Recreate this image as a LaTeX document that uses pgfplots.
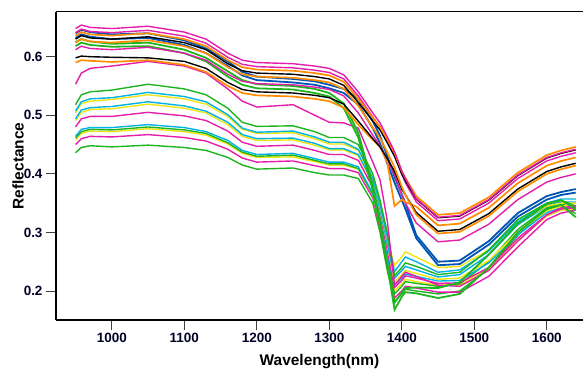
\documentclass[border=0pt]{standalone}
\usepackage{pgfplots}
\usepackage{pgfplotstable}
\pgfplotsset{compat=1.18}
\usepackage{fontspec}
\setmainfont{Liberation Sans}
\definecolor{cmag}{RGB}{228,30,170}
\definecolor{cgrn}{RGB}{30,180,30}
\definecolor{ccyn}{RGB}{0,178,228}
\definecolor{cyel}{RGB}{240,228,20}
\definecolor{corg}{RGB}{255,140,0}
\definecolor{cblu}{RGB}{0,84,180}

\pgfplotstableread{
wl U1 U2 U3 U4 U5 U6 U7 U8 B1 B2 Ga Gb Mu G1 C1 Y1 C2 Y2 M1 C3 G2 Y3 M2 G3
950 0.648 0.636 0.630 0.641 0.624 0.598 0.612 0.590 0.640 0.632 0.625 0.618 0.553 0.518 0.507 0.504 0.494 0.491 0.480 0.464 0.461 0.458 0.450 0.436
958 0.654 0.642 0.636 0.647 0.630 0.601 0.618 0.594 0.646 0.638 0.630 0.624 0.572 0.535 0.523 0.520 0.509 0.505 0.494 0.476 0.472 0.469 0.460 0.445
970 0.650 0.638 0.632 0.643 0.626 0.600 0.614 0.593 0.642 0.634 0.626 0.620 0.580 0.540 0.528 0.524 0.513 0.510 0.498 0.479 0.476 0.473 0.464 0.448
1000 0.648 0.636 0.630 0.641 0.624 0.599 0.612 0.591 0.638 0.630 0.622 0.617 0.584 0.543 0.530 0.527 0.515 0.511 0.498 0.479 0.475 0.472 0.463 0.446
1050 0.652 0.640 0.634 0.645 0.628 0.598 0.616 0.594 0.640 0.632 0.624 0.618 0.592 0.553 0.539 0.535 0.523 0.519 0.505 0.484 0.480 0.477 0.467 0.449
1100 0.642 0.630 0.624 0.635 0.618 0.592 0.606 0.586 0.628 0.620 0.612 0.606 0.584 0.545 0.532 0.528 0.516 0.512 0.499 0.479 0.475 0.472 0.462 0.445
1130 0.630 0.618 0.612 0.623 0.606 0.580 0.594 0.574 0.614 0.606 0.598 0.592 0.572 0.535 0.523 0.519 0.507 0.504 0.491 0.472 0.469 0.466 0.456 0.440
1160 0.606 0.594 0.588 0.599 0.582 0.556 0.570 0.550 0.592 0.584 0.575 0.566 0.545 0.512 0.501 0.498 0.488 0.484 0.473 0.457 0.453 0.451 0.442 0.428
1180 0.594 0.582 0.576 0.587 0.570 0.544 0.558 0.538 0.574 0.568 0.560 0.552 0.524 0.488 0.478 0.476 0.467 0.464 0.454 0.440 0.437 0.435 0.427 0.415
1200 0.590 0.578 0.572 0.583 0.566 0.540 0.554 0.534 0.566 0.560 0.553 0.546 0.514 0.481 0.471 0.469 0.460 0.457 0.447 0.433 0.430 0.428 0.420 0.408
1250 0.588 0.576 0.570 0.581 0.564 0.538 0.552 0.532 0.562 0.556 0.550 0.544 0.518 0.482 0.473 0.470 0.461 0.458 0.449 0.435 0.432 0.429 0.422 0.410
1280 0.584 0.572 0.566 0.577 0.560 0.534 0.548 0.528 0.558 0.552 0.545 0.538 0.500 0.472 0.463 0.460 0.452 0.449 0.440 0.426 0.423 0.421 0.414 0.402
1300 0.580 0.568 0.562 0.573 0.556 0.530 0.544 0.524 0.552 0.546 0.538 0.532 0.488 0.462 0.454 0.451 0.443 0.441 0.433 0.420 0.417 0.415 0.409 0.398
1320 0.569 0.557 0.551 0.562 0.545 0.519 0.533 0.513 0.545 0.538 0.520 0.512 0.487 0.462 0.454 0.451 0.443 0.441 0.433 0.420 0.417 0.415 0.409 0.398
1340 0.540 0.528 0.522 0.533 0.516 0.490 0.504 0.484 0.528 0.518 0.470 0.462 0.478 0.450 0.442 0.440 0.433 0.431 0.423 0.412 0.409 0.408 0.402 0.392
1360 0.504 0.496 0.490 0.497 0.479 0.460 0.466 0.458 0.490 0.478 0.380 0.372 0.420 0.400 0.393 0.392 0.386 0.384 0.377 0.367 0.365 0.364 0.359 0.350
1370 0.487 0.480 0.475 0.480 0.461 0.446 0.448 0.446 0.465 0.452 0.320 0.312 0.390 0.355 0.348 0.346 0.339 0.337 0.330 0.319 0.317 0.315 0.309 0.300
1380 0.463 0.459 0.453 0.456 0.437 0.426 0.424 0.420 0.430 0.418 0.245 0.245 0.320 0.300 0.292 0.289 0.281 0.279 0.270 0.257 0.255 0.253 0.246 0.235
1390 0.438 0.436 0.430 0.431 0.411 0.404 0.398 0.345 0.395 0.385 0.168 0.180 0.210 0.226 0.233 0.244 0.222 0.215 0.206 0.210 0.195 0.200 0.188 0.182
1400 0.405 0.405 0.400 0.399 0.378 0.374 0.364 0.356 0.365 0.355 0.190 0.197 0.225 0.240 0.250 0.258 0.235 0.228 0.218 0.222 0.208 0.212 0.200 0.195
1405 0.392 0.393 0.388 0.385 0.364 0.364 0.350 0.352 0.350 0.340 0.198 0.205 0.232 0.248 0.258 0.267 0.242 0.235 0.226 0.229 0.216 0.220 0.208 0.203
1420 0.358 0.362 0.357 0.352 0.330 0.334 0.316 0.344 0.295 0.290 0.196 0.206 0.225 0.242 0.250 0.258 0.236 0.230 0.222 0.225 0.213 0.216 0.205 0.200
1450 0.326 0.330 0.325 0.320 0.298 0.302 0.284 0.312 0.250 0.244 0.188 0.205 0.210 0.228 0.232 0.240 0.224 0.220 0.213 0.217 0.208 0.210 0.198 0.195
1480 0.329 0.333 0.328 0.323 0.301 0.305 0.287 0.315 0.252 0.246 0.195 0.215 0.208 0.232 0.236 0.242 0.228 0.222 0.214 0.218 0.212 0.210 0.198 0.200
1520 0.356 0.360 0.355 0.350 0.328 0.332 0.314 0.342 0.285 0.279 0.240 0.262 0.235 0.270 0.268 0.270 0.262 0.252 0.240 0.248 0.250 0.238 0.225 0.238
1560 0.398 0.402 0.397 0.392 0.370 0.374 0.356 0.384 0.333 0.327 0.300 0.315 0.285 0.322 0.318 0.318 0.313 0.300 0.290 0.296 0.305 0.286 0.275 0.295
1600 0.428 0.432 0.427 0.422 0.400 0.404 0.386 0.414 0.362 0.356 0.340 0.348 0.330 0.350 0.350 0.345 0.345 0.337 0.330 0.334 0.342 0.328 0.322 0.338
1620 0.436 0.440 0.435 0.430 0.408 0.412 0.394 0.422 0.369 0.364 0.347 0.355 0.342 0.355 0.357 0.350 0.352 0.345 0.340 0.342 0.350 0.338 0.333 0.347
1640 0.442 0.446 0.441 0.436 0.414 0.418 0.400 0.428 0.374 0.368 0.326 0.340 0.345 0.345 0.357 0.350 0.352 0.346 0.342 0.345 0.338 0.340 0.338 0.332
}\spectra

\begin{document}
\begin{tikzpicture}
\begin{axis}[
  scale only axis,
  width=527bp, height=308.3bp,
  xmin=923, xmax=1650, ymin=0.1505, ymax=0.6768,
  axis y line*=left,
  y axis line style={-},
  axis line style={line width=1.6pt, black},
  xtick pos=left,
  tick align=outside,
  major tick length=10bp,
  tick style={line width=0.8pt, black!75},
  xtick={1000,1100,1200,1300,1400,1500,1600},
  ytick={0.2,0.3,0.4,0.5,0.6},
  yticklabels={0.2,0.3,0.4,0.5,0.6},
  xticklabels={1000,1100,1200,1300,1400,1500,1600},
  ticklabel style={font=\bfseries\fontsize{13.5}{15}\selectfont, text=black!85!blue},
  label style={font=\bfseries\fontsize{15.5}{17}\selectfont},
  xlabel={Wavelength(nm)},
  ylabel={Reflectance},
  xlabel style={at={(axis description cs:0.5,0)}, anchor=center, yshift=-41.7bp},
  ylabel style={at={(axis description cs:0,0.5)}, anchor=center, rotate=0, yshift=38bp},
  every axis plot/.append style={line width=1.4pt, no markers},
  clip=true,
]
\addplot[cgrn] table[x=wl,y=G3] {\spectra};
\addplot[cmag] table[x=wl,y=M2] {\spectra};
\addplot[cyel] table[x=wl,y=Y3] {\spectra};
\addplot[cgrn] table[x=wl,y=G2] {\spectra};
\addplot[ccyn] table[x=wl,y=C3] {\spectra};
\addplot[cmag] table[x=wl,y=M1] {\spectra};
\addplot[cyel] table[x=wl,y=Y2] {\spectra};
\addplot[ccyn] table[x=wl,y=C2] {\spectra};
\addplot[cyel] table[x=wl,y=Y1] {\spectra};
\addplot[ccyn] table[x=wl,y=C1] {\spectra};
\addplot[cgrn] table[x=wl,y=G1] {\spectra};
\addplot[cmag] table[x=wl,y=Mu] {\spectra};
\addplot[cgrn, line width=1.8pt] table[x=wl,y=Gb] {\spectra};
\addplot[cgrn, line width=1.8pt] table[x=wl,y=Ga] {\spectra};
\addplot[cblu, line width=1.8pt] table[x=wl,y=B2] {\spectra};
\addplot[cblu, line width=1.8pt] table[x=wl,y=B1] {\spectra};
\addplot[cmag] table[x=wl,y=U7] {\spectra};
\addplot[corg, line width=1.7pt] table[x=wl,y=U8] {\spectra};
\addplot[black] table[x=wl,y=U6] {\spectra};
\addplot[corg, line width=1.7pt] table[x=wl,y=U5] {\spectra};
\addplot[cmag] table[x=wl,y=U4] {\spectra};
\addplot[black] table[x=wl,y=U3] {\spectra};
\addplot[corg, line width=1.7pt] table[x=wl,y=U2] {\spectra};
\addplot[cmag] table[x=wl,y=U1] {\spectra};
\coordinate (bl) at (rel axis cs:0,0);
\coordinate (tr) at (rel axis cs:1,1);
\end{axis}
\pgfresetboundingbox
\path ([shift={(-56bp,-50bp)}]bl) rectangle ([shift={(0bp,11.7bp)}]tr);
\end{tikzpicture}
\end{document}
